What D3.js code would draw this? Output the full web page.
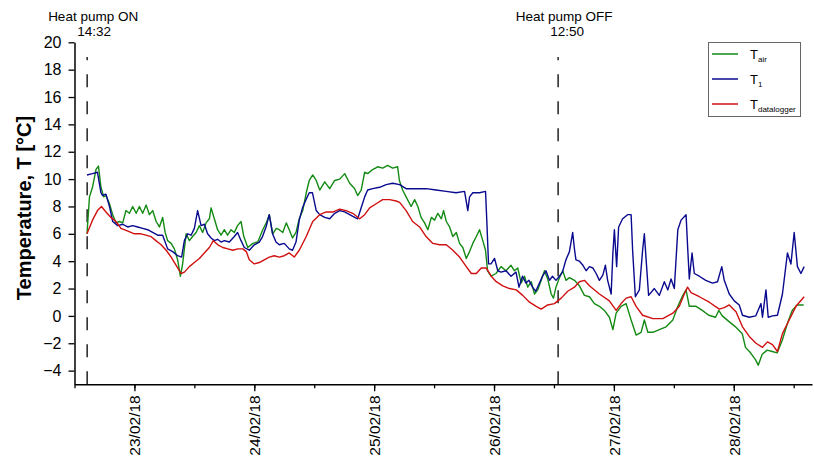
<!DOCTYPE html>
<html>
<head>
<meta charset="utf-8">
<script src="https://cdn.jsdelivr.net/npm/d3@7"></script>
<style>
body{margin:0;background:#fff;}
svg{display:block;font-family:"Liberation Sans",Arial,sans-serif;}
</style>
</head>
<body>
<div class="chart"></div>
<script>
// hours counted from 22/02/18 00:00
var airHours=[14.5,15.0,15.6,16.3,16.8,17.3,17.85,18.3,19.0,19.65,20.3,21.0,21.65,22.3,23.0,23.65,24.35,25.0,25.65,26.35,27.0,27.65,28.35,29.0,29.65,30.15,30.65,31.35,32.0,32.65,33.2,33.65,34.35,35.0,35.65,36.35,37.0,37.65,38.35,39.0,39.35,40.0,40.65,41.35,42.0,42.65,43.35,44.0,44.65,45.35,45.9,46.7,47.7,48.7,49.7,50.4,51.0,51.7,52.4,53.0,53.7,54.4,55.0,55.65,56.35,57.0,57.7,58.4,59.0,59.7,60.4,61.1,62.1,63.1,64.1,65.1,66.1,67.1,68.1,68.7,69.4,70.1,70.7,71.7,72.7,73.7,74.7,75.7,76.7,77.05,77.7,78.4,79.4,80.1,80.75,81.4,82.1,82.75,83.45,84.1,84.75,85.45,85.9,86.45,87.1,87.75,88.45,89.1,89.75,90.45,91.1,91.75,92.45,93.1,93.75,94.3,94.7,95.4,96.4,97.4,98.4,99.4,100.1,100.75,101.45,102.1,102.75,103.45,104.1,104.75,105.45,106.1,106.75,107.45,107.9,108.4,109.1,109.75,110.4,111.1,112.1,113.1,114.1,115.1,116.1,117.1,118.1,119.1,119.8,120.45,121.45,122.45,123.45,124.45,125.45,126.1,126.8,127.8,129.1,130.45,131.8,132.8,133.8,134.45,135.1,136.45,137.7,139.0,140.35,141.0,141.7,143.0,144.35,145.7,146.35,147.35,148.35,148.9,149.7,150.7,151.7,152.7,153.7,154.7,155.7,156.7,158.0];
var airTemp=[6.0,8.7,9.4,10.7,10.95,9.4,8.7,8.8,8.2,7.4,6.8,6.9,6.8,7.7,7.5,8.0,7.5,8.0,7.5,8.1,7.4,7.7,6.9,6.5,7.2,6.1,5.5,5.3,4.9,4.1,2.9,3.8,6.0,5.5,5.8,6.1,6.6,6.1,6.8,7.1,7.9,7.1,6.3,5.9,6.3,5.9,6.3,6.1,6.6,6.9,5.8,5.0,5.3,5.4,6.3,6.8,7.4,6.0,6.4,6.3,6.1,6.8,6.3,5.7,6.1,7.1,7.7,9.0,9.9,10.3,9.9,9.2,9.8,9.3,9.9,10.0,10.4,9.7,9.3,8.8,9.2,10.5,10.4,10.7,10.9,10.8,11.0,10.8,10.9,9.9,9.2,8.7,8.0,8.5,8.0,7.2,6.8,6.3,7.2,7.0,7.5,7.1,7.7,6.9,6.5,5.8,6.1,5.3,5.0,4.2,4.7,5.3,5.8,6.3,5.5,4.8,3.3,2.9,3.1,3.6,3.3,3.7,3.3,3.5,2.4,2.9,2.1,2.5,1.6,1.9,2.6,3.3,2.7,1.6,1.3,2.1,2.8,3.3,2.6,2.8,2.6,2.2,1.5,1.4,0.9,0.7,0.4,-0.1,-1.0,0.2,0.7,0.9,-0.3,-1.4,-1.2,-0.3,-1.2,-1.2,-1.0,-0.8,-0.3,0.7,1.5,1.9,0.7,0.7,0.4,0.05,-0.1,0.4,0.0,-0.4,-0.8,-1.3,-2.3,-2.7,-3.2,-3.6,-2.8,-2.5,-2.6,-2.7,-1.8,-0.6,0.4,0.8,0.8];

var t1Hours=[14.5,15.6,16.6,17.3,17.6,18.3,19.0,19.65,20.65,21.65,22.65,23.65,24.65,25.65,26.65,27.65,28.65,29.65,30.65,31.65,32.65,33.45,34.0,34.65,35.35,36.0,36.65,37.35,38.0,38.65,39.35,40.0,40.65,41.35,42.0,43.0,44.0,44.65,45.35,46.0,47.0,48.0,49.0,49.65,50.35,51.0,51.65,52.35,53.0,54.0,55.0,55.65,56.35,57.0,57.65,58.35,59.0,59.65,60.4,61.1,62.1,63.1,64.1,65.1,66.1,67.1,68.1,68.7,69.4,70.1,70.7,71.7,73.1,74.4,75.7,77.1,78.4,80.4,82.4,84.4,86.4,88.4,90.1,90.75,91.1,91.75,93.1,94.3,94.55,94.9,95.4,96.1,96.75,97.4,98.4,99.4,100.4,101.0,101.7,102.4,103.0,103.7,104.35,105.1,105.7,106.4,107.1,107.7,108.4,109.1,109.7,110.4,111.1,111.75,112.1,112.4,113.1,113.8,114.45,115.1,115.8,116.45,117.1,117.8,118.3,118.75,119.45,119.8,120.1,120.55,120.95,121.75,122.75,123.45,123.75,124.3,125.1,125.75,126.1,126.55,126.95,128.1,129.1,130.1,130.8,131.45,132.1,132.8,133.45,134.45,134.8,135.1,135.65,136.1,137.1,138.4,139.75,140.75,141.6,142.1,143.1,144.1,145.1,145.75,147.1,148.4,149.45,149.75,150.45,150.9,151.75,152.75,153.75,154.75,155.45,156.1,156.75,157.45,158.1];
var t1Temp=[10.3,10.4,10.5,9.0,8.8,8.9,8.0,6.9,6.6,6.7,6.5,6.6,6.5,6.4,6.3,6.1,5.9,5.9,4.9,4.7,4.4,4.3,5.5,6.0,5.9,6.4,7.7,6.6,6.7,6.0,5.7,5.5,5.6,5.4,5.5,5.4,5.8,6.1,5.5,5.0,4.8,5.2,5.4,5.8,6.5,7.4,6.0,5.4,5.2,5.3,4.9,4.8,5.4,7.0,7.9,8.5,9.0,9.0,7.7,7.4,7.2,7.1,7.5,7.7,7.6,7.4,7.2,7.1,7.9,8.7,9.2,9.3,9.4,9.6,9.7,9.6,9.3,9.3,9.3,9.2,9.1,9.0,9.1,7.7,8.7,9.0,9.0,9.1,7.0,3.8,3.8,4.2,3.3,3.2,3.3,2.9,3.2,2.1,2.9,2.4,2.6,2.1,1.8,2.4,2.9,3.3,2.6,2.9,2.6,2.9,3.2,4.1,4.7,6.1,4.9,4.1,4.0,3.7,3.3,3.6,3.5,3.1,2.6,3.0,3.7,2.6,1.6,4.6,6.3,3.6,6.5,7.1,7.4,7.4,4.8,1.4,1.9,4.8,6.0,3.6,1.5,2.0,1.5,2.5,1.9,2.7,2.0,6.3,7.0,7.4,4.8,2.7,4.6,3.1,2.9,2.6,2.4,2.5,3.6,2.6,1.6,1.1,0.8,0.05,-0.1,0.0,0.9,-0.1,1.9,-0.1,0.0,0.05,1.6,4.6,3.8,6.1,3.6,3.1,3.6];

var logHours=[14.5,15.6,16.6,17.4,18.3,19.3,20.3,21.3,22.7,24.0,25.3,26.3,27.3,28.3,29.35,30.35,31.35,32.35,33.35,34.0,35.0,36.0,37.0,38.0,39.0,39.8,40.7,41.7,42.7,43.7,44.7,45.7,46.4,47.0,48.0,49.0,50.0,51.0,52.0,53.0,54.0,55.0,56.0,57.0,58.4,59.7,61.1,62.4,63.8,65.1,66.4,67.7,69.1,70.1,71.1,72.4,73.7,75.1,76.4,77.1,78.4,79.7,81.1,82.4,83.75,85.1,86.45,87.75,89.1,90.45,91.45,92.45,93.45,94.45,95.45,96.45,97.75,99.1,100.45,101.75,103.1,104.45,105.45,106.75,108.1,109.45,110.75,112.1,113.1,114.1,115.1,117.1,119.1,120.45,121.45,122.45,123.45,124.45,125.75,127.8,129.8,131.8,133.1,134.1,134.75,135.45,137.1,139.1,141.1,142.1,143.1,144.45,145.75,147.1,148.45,149.75,150.75,151.75,152.75,153.75,155.1,156.45,158.1];
var logTemp=[6.0,7.0,7.7,8.0,7.6,7.2,6.9,6.4,6.2,6.0,6.0,5.9,5.8,5.5,5.2,4.8,4.3,3.7,3.1,3.2,3.6,3.9,4.2,4.6,5.0,5.5,5.2,5.0,4.9,4.8,4.9,4.9,4.7,4.1,3.8,3.9,4.1,4.3,4.4,4.3,4.4,4.6,4.3,4.8,5.8,6.9,7.4,7.6,7.6,7.8,7.7,7.5,7.1,7.4,7.9,8.2,8.5,8.5,8.4,8.3,7.7,6.9,6.5,5.8,5.3,5.2,5.2,4.8,4.3,3.6,3.1,3.1,3.5,3.5,2.9,2.5,2.2,2.0,1.9,1.5,1.0,0.7,0.5,0.8,0.9,1.3,1.8,2.1,2.5,2.6,2.2,1.6,1.1,0.4,0.9,1.3,1.4,0.7,0.05,-0.2,-0.2,0.2,0.7,1.6,2.1,1.7,1.4,1.0,0.5,0.6,0.8,0.3,-0.8,-1.5,-2.0,-2.3,-1.9,-2.1,-2.6,-1.3,-0.3,0.7,1.4];

var yTicks=[-4,-2,0,2,4,6,8,10,12,14,16,18,20];
var events=[{h:14+32/60,label:"Heat pump ON",time:"14:32"},{h:4*24+12+50/60,label:"Heat pump OFF",time:"12:50"}];
var seriesNames=["air","1","datalogger"];
var seriesColors=["#138a13","#0a0a8f","#d01010"];

var base=new Date(2018,1,22,0,0);
function toDate(h){return new Date(base.getTime()+h*3600000);}

var width=814,height=458;
var svg=d3.select('div.chart')
		.append('svg')
		.attr('width',width)
		.attr('height',height);

var x=d3.scaleTime()
		.domain([new Date(2018,1,22,12),new Date(2018,1,28,15,40)])
		.range([74.5,812]);
var y=d3.scaleLinear()
		.domain([-5,20])
		.range([384.3,42.3]);

//dashed event lines
events.forEach(function(e,i){
	var ex=x(toDate(e.h));
	svg.append('line')
		.attr('x1',ex).attr('x2',ex)
		.attr('y1',y(-5)).attr('y2',57)
		.attr('stroke','#222')
		.attr('stroke-width',1.5)
		.attr('stroke-dasharray','13,14');
	svg.append('text')
		.attr('x',ex+6).attr('y',21)
		.attr('text-anchor','middle')
		.style('font-size','13.5px')
		.text(e.label);
	svg.append('text')
		.attr('x',ex+7+i*2).attr('y',36)
		.attr('text-anchor','middle')
		.style('font-size','13.5px')
		.text(e.time);
});

//series
var all=[[airHours,airTemp],[t1Hours,t1Temp],[logHours,logTemp]];
var line=d3.line()
		.x(function(d){return x(d[0]);})
		.y(function(d){return y(d[1]);});
all.forEach(function(s,i){
	var pts=s[0].map(function(h,k){return [toDate(h),s[1][k]];});
	svg.append('path')
		.datum(pts)
		.attr('fill','none')
		.attr('stroke',seriesColors[i])
		.attr('stroke-width',1.4)
		.attr('stroke-linejoin','round')
		.attr('d',line);
});

//y axis
var yAxis=svg.append('g')
		.attr('transform','translate(74.5,0)')
		.call(d3.axisLeft(y).tickValues(yTicks).tickSize(6).tickSizeOuter(0).tickPadding(7));
yAxis.selectAll('text').style('font-size','16px').attr('fill','#000');
yAxis.select('.domain').attr('stroke-width',1.5);
yAxis.selectAll('.tick line').attr('stroke-width',1.3);

//x axis: minor ticks at noon, major ticks with labels at midnight
var xMinor=svg.append('g')
		.attr('transform','translate(0,384.3)')
		.call(d3.axisBottom(x).ticks(d3.timeHour.every(12)).tickSize(4).tickSizeOuter(0).tickFormat(''));
xMinor.select('.domain').attr('stroke-width',1.5);
xMinor.selectAll('.tick line').attr('stroke-width',1.3);
var xMajor=svg.append('g')
		.attr('transform','translate(0,384.3)')
		.call(d3.axisBottom(x).ticks(d3.timeDay.every(1)).tickSize(7).tickFormat(d3.timeFormat('%d/%m/%y')));
xMajor.select('.domain').remove();
xMajor.selectAll('.tick line').attr('stroke-width',1.3);
xMajor.selectAll('text')
		.attr('transform','rotate(-90)')
		.attr('x',-11)
		.attr('y',0)
		.attr('dy','0.35em')
		.attr('text-anchor','end')
		.attr('fill','#000')
		.style('font-size','15.5px');

//y title
svg.append('text')
		.attr('transform','translate(31,208) rotate(-90)')
		.attr('text-anchor','middle')
		.style('font-size','20px')
		.style('font-weight','bold')
		.text('Temperature, T [°C]');

//legend
var lg=svg.append('g');
lg.append('rect')
		.attr('x',708.5).attr('y',42.5)
		.attr('width',92).attr('height',74)
		.attr('fill','#fff')
		.attr('stroke','#666')
		.attr('stroke-width',1);
seriesNames.forEach(function(n,i){
	var ly=54+i*25;
	lg.append('line')
		.attr('x1',712).attr('x2',738)
		.attr('y1',ly).attr('y2',ly)
		.attr('stroke',seriesColors[i])
		.attr('stroke-width',1.5);
	var t=lg.append('text')
		.attr('x',750).attr('y',ly+5)
		.style('font-size','13px');
	t.append('tspan').text('T');
	t.append('tspan')
		.attr('dy',3)
		.style('font-size','8px')
		.text(n);
});
</script>
</body>
</html>
